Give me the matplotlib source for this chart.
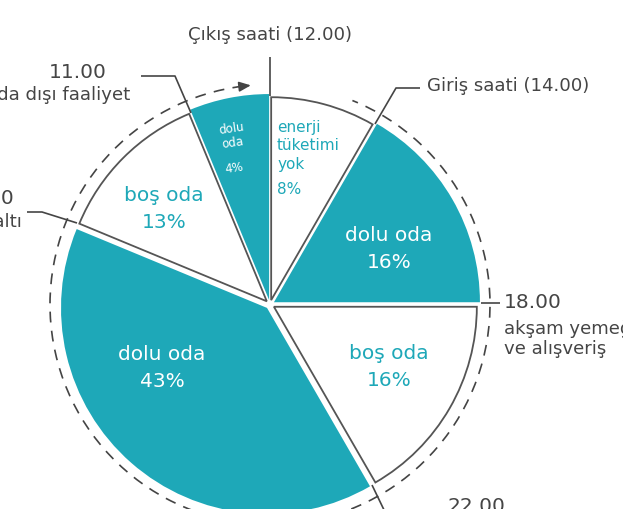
import numpy as np
import matplotlib
matplotlib.use("Agg")
import matplotlib.pyplot as plt
from matplotlib.patches import Arc

# hours of the day covered by each slice, clockwise from 12.00
hours = [2, 4, 4, 9.5, 3, 1.5]
filled = [False, True, False, True, False, True]
slice_names = ["enerji\ntüketimi\nyok", "dolu oda", "boş oda", "dolu oda", "boş oda", "dolu\noda"]
slice_pcts = ["8%", "16%", "16%", "43%", "13%", "4%"]

time_labels = ["Çıkış saati (12.00)", "Giriş saati (14.00)", "18.00", "22.00", "7.30", "11.00"]
time_notes = ["", "", "akşam yemeği\nve alışveriş", "", "kahvaltı", "oda dışı faaliyet"]

TEAL = "#1ea8b8"
GREY = "#454545"
EDGE = "#555555"

plt.rcParams['font.family'] = ['DejaVu Sans']

W, H = 623, 509
cx, cy = 270, 304.5       # pie centre in pixels (y down)
R = 206.0

fig = plt.figure(figsize=(W / 100, H / 100), dpi=100)
ax = fig.add_axes([0, 0, 1, 1])

def px(x, y):
    return (x - cx) / R, (cy - y) / R

colors = [TEAL if f else "white" for f in filled]
wedges, _ = ax.pie(hours, colors=colors, startangle=90, counterclock=False,
                   explode=[0.022] * len(hours), radius=1.0,
                   wedgeprops=dict(linewidth=0))
for w, f in zip(wedges, filled):
    if not f:
        w.set_edgecolor(EDGE)
        w.set_linewidth(1.3)
        w.set_radius(0.985)

# coordinates in units of the pie radius, origin at the centre
ax.set_xlim(-cx / R, (W - cx) / R)
ax.set_ylim(-(H - cy) / R, cy / R)
ax.set_aspect('equal')
ax.axis('off')

# dashed timeline circle with arrow
rd = 220 / R * 2
arc = Arc((0, 0), rd, rd, theta1=97, theta2=428, color="#444444", lw=1.2,
          linestyle=(0, (6.5, 5)))
ax.add_patch(arc)
a0 = np.deg2rad(98.0)
a1 = np.deg2rad(95.0)
ax.annotate("", xy=(rd / 2 * np.cos(a1), rd / 2 * np.sin(a1)),
            xytext=(rd / 2 * np.cos(a0), rd / 2 * np.sin(a0)),
            arrowprops=dict(arrowstyle="-|>,head_length=0.7,head_width=0.3",
                            color="#444444", lw=1.2, shrinkA=0, shrinkB=0))

# leader lines (pixel coords)
leaders = [
    [(270, 57), (270, 96)],
    [(420, 88), (396, 88), (375, 124)],
    [(481, 303), (500, 303)],
    [(372, 485), (385, 512)],
    [(27, 212), (42, 212), (77, 223)],
    [(141, 76), (175, 76), (191, 113)],
]
for pts in leaders:
    xs, ys = zip(*[px(x, y) for x, y in pts])
    ax.plot(xs, ys, color=GREY, lw=1.2, solid_capstyle='butt')

# time labels
big = 13.1
num = 14.5
ax.text(*px(270, 35), time_labels[0], fontsize=big, color=GREY, ha='center', va='center')
ax.text(*px(427, 86), time_labels[1], fontsize=big, color=GREY, ha='left', va='center')
ax.text(*px(504, 302), time_labels[2], fontsize=num, color=GREY, ha='left', va='center')
ax.text(*px(504, 339), time_notes[2], fontsize=big, color=GREY, ha='left', va='center',
        linespacing=1.15)
ax.text(*px(447, 507), time_labels[3], fontsize=num, color=GREY, ha='left', va='center')
ax.text(*px(14, 198), time_labels[4], fontsize=num, color=GREY, ha='right', va='center')
ax.text(*px(22, 222), time_notes[4], fontsize=big, color=GREY, ha='right', va='center')
ax.text(*px(107, 72), time_labels[5], fontsize=num, color=GREY, ha='right', va='center')
ax.text(*px(130, 95), time_notes[5], fontsize=big, color=GREY, ha='right', va='center')

# slice labels
mid = 14.5
ax.text(*px(277, 146), slice_names[0], fontsize=11, color=TEAL, ha='left', va='center',
        linespacing=1.3)
ax.text(*px(277, 189), slice_pcts[0], fontsize=11, color=TEAL, ha='left', va='center')
ax.text(*px(389, 249), slice_names[1] + "\n" + slice_pcts[1], fontsize=mid, color="white",
        ha='center', va='center', linespacing=1.55)
ax.text(*px(389, 367), slice_names[2] + "\n" + slice_pcts[2], fontsize=mid, color=TEAL,
        ha='center', va='center', linespacing=1.5)
ax.text(*px(162, 368), slice_names[3] + "\n" + slice_pcts[3], fontsize=mid, color="white",
        ha='center', va='center', linespacing=1.55)
ax.text(*px(164, 209), slice_names[4] + "\n" + slice_pcts[4], fontsize=mid, color=TEAL,
        ha='center', va='center', linespacing=1.5)
ax.text(*px(232, 136), slice_names[5], fontsize=8.5, color="white", ha='center', va='center',
        rotation=8, linespacing=1.1)
ax.text(*px(234, 168), slice_pcts[5], fontsize=8.5, color="white", ha='center', va='center',
        rotation=8)

fig.savefig("out.png", dpi=100)
